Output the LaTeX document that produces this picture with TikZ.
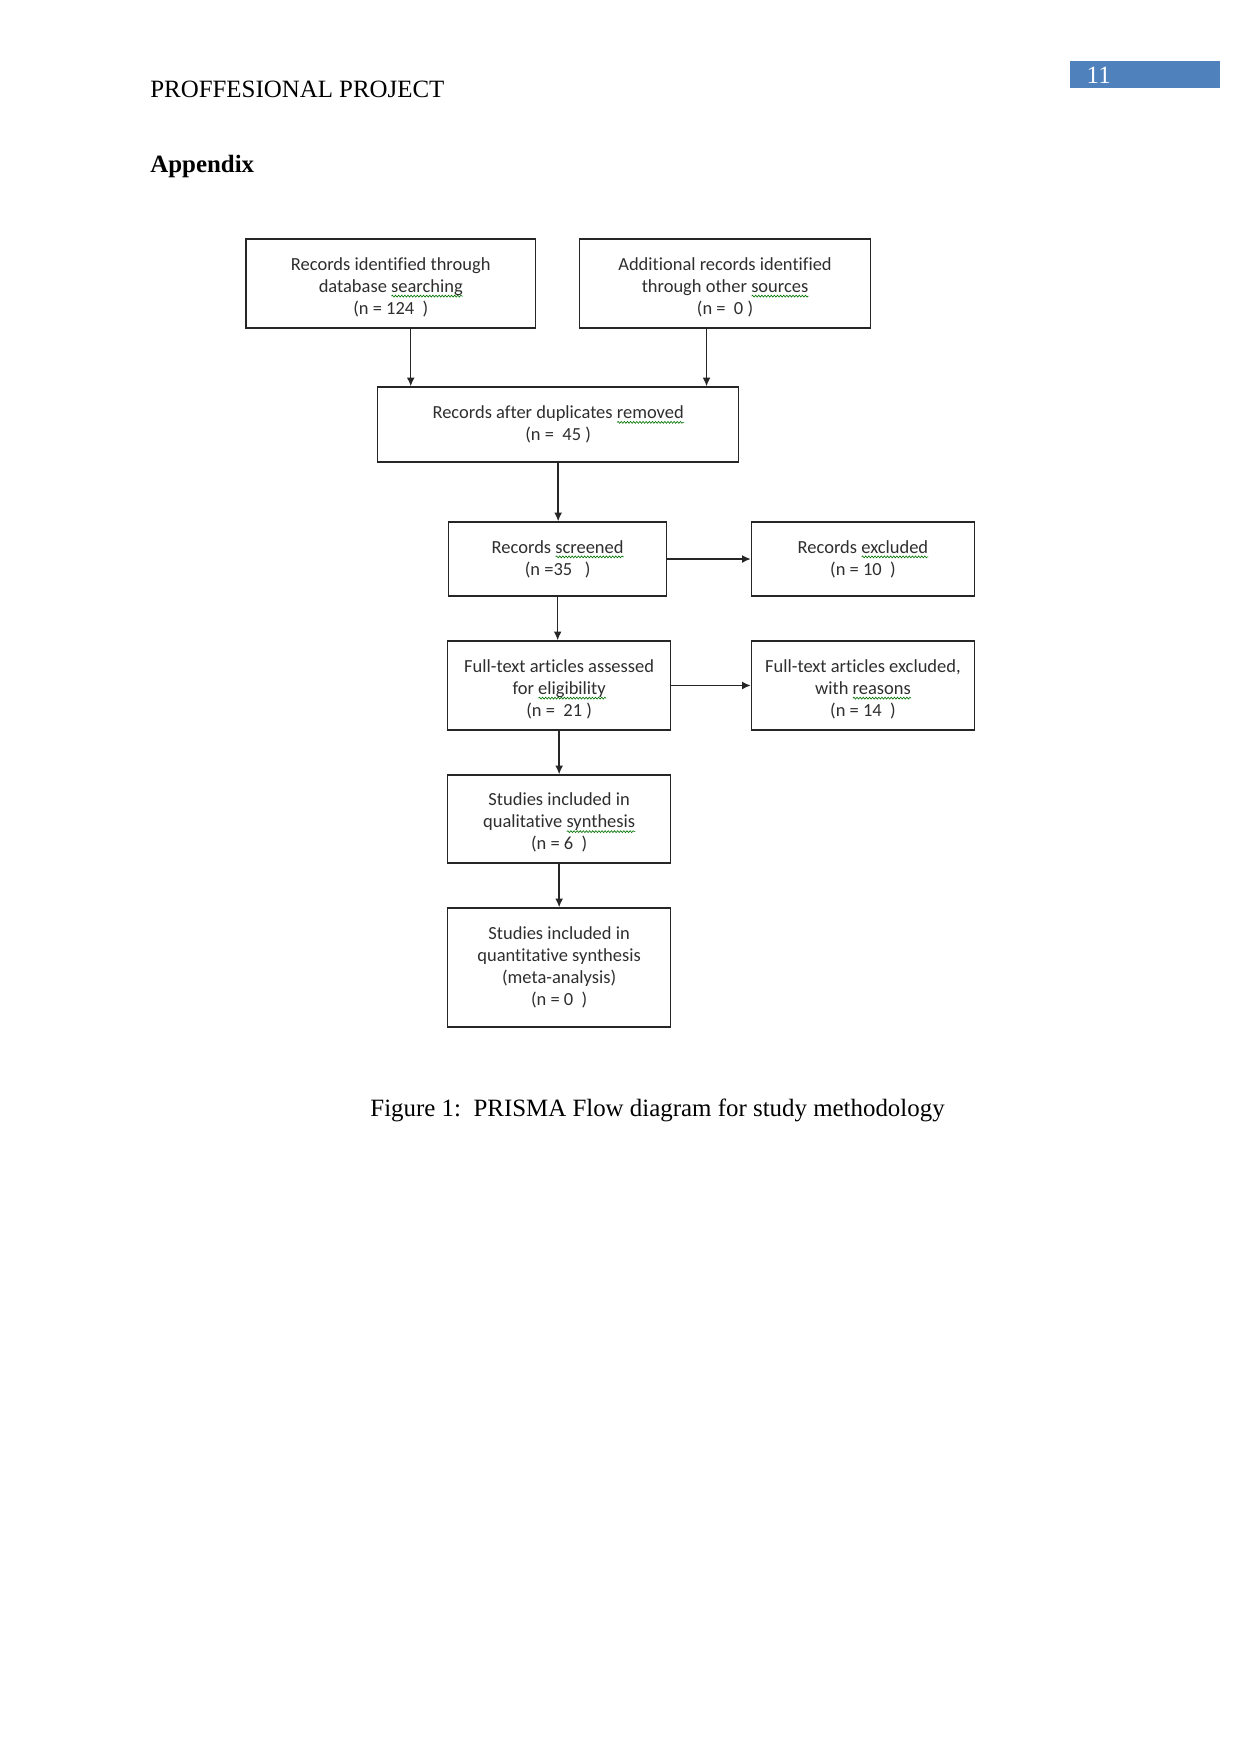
\documentclass[tikz,border=0pt]{standalone}
\usepackage{fontspec}
\setmainfont{Liberation Serif}
\newfontfamily\boxfont[Ligatures=NoCommon]{Carlito}
\usepackage{xcolor}
\usepackage{tikz}
\usetikzlibrary{arrows.meta,positioning,decorations.pathmorphing}
\colorlet{boxline}{black!85}
\colorlet{boxtext}{black!82}
\colorlet{spellgreen}{green!45!black}
\definecolor{pagetab}{RGB}{79,129,189}
\newdimen\px \px=0.16922mm
\newlength\spellwd
% wavy spell-check line under a word
\newcommand{\spell}[1]{\settowidth\spellwd{#1}%
  \rlap{\smash{\raisebox{-2.4pt}{\tikz\draw[spellgreen,line width=0.3pt,decorate,
    decoration={snake,amplitude=0.45pt,segment length=1.5pt}] (0,0)--(\spellwd,0);}}}#1}
% taller first line, pushes a three-line text down a little
\newcommand{\toprow}{\rule{0pt}{9.8pt}}

\begin{document}
\begin{tikzpicture}[x=0.16922mm,y=-0.16933mm,>=Latex,
  stage/.style={draw=boxline,line width=0.7pt,align=center,inner sep=0pt,
    text=boxtext,font=\boxfont\fontsize{8.9}{10.6}\selectfont},
  flow/.style={->,draw=boxline,line width=0.7pt,>={Latex[length=4.2pt,width=3.8pt]}},
  page/.style={font=\fontsize{12}{14}\selectfont,inner sep=0pt}]
\useasboundingbox (0,0) rectangle (1241,1754);
% running head and page number
\node[page,anchor=base west] (running) at (150,97) {PROFFESIONAL PROJECT};
\node[fill=pagetab,minimum width=150\px,minimum height=27\px,inner sep=0pt] (tab) at (1146,74.5) {};
\node[page,anchor=west,text=white] (pgno) at (1087,75) {11};
\node[page,anchor=base west,font=\bfseries\fontsize{12}{14}\selectfont] (appx) at (150,172) {Appendix};
% identification
\node[stage,minimum width=290\px,minimum height=89\px] (db) at (391,283.5)
  {\toprow Records identified through\\database \spell{searching}\\(n = 124\ \ )};
\node[stage,minimum width=291\px,minimum height=89\px] (other) at (725.5,283.5)
  {\toprow Additional records identified\\through other \spell{sources}\\(n =\ \ 0 )};
\node[stage,minimum width=361\px,minimum height=75\px] (dup) at (558.5,424.5)
  {Records after duplicates \spell{removed}\\(n =\ \ 45 )};
% screening
\node[stage,minimum width=218\px,minimum height=74\px] (scr) at (558,559)
  {Records \spell{screened}\\(n =35\ \ \ )};
\node[stage,minimum width=223\px,minimum height=74\px] (exc) at (863.5,559)
  {Records \spell{excluded}\\(n = 10\ \ )};
% eligibility
\node[stage,minimum width=223\px,minimum height=89\px] (ft) at (559.5,685.5)
  {\toprow Full-text articles assessed\\for \spell{eligibility}\\(n =\ \ 21 )};
\node[stage,minimum width=223\px,minimum height=89\px] (ftx) at (863.5,685.5)
  {\toprow Full-text articles excluded,\\with \spell{reasons}\\(n = 14\ \ )};
% included
\node[stage,minimum width=223\px,minimum height=88\px] (qual) at (559.5,819)
  {\toprow Studies included in\\qualitative \spell{synthesis}\\(n = 6\ \ )};
\node[stage,minimum width=223\px,minimum height=119\px] (quant) at (559.5,967.5)
  {Studies included in\\quantitative synthesis\\(meta-analysis)\\(n = 0\ \ )};
% connectors
\draw[flow] ([xshift=20\px]db.south) -- ([xshift=20\px]db.south |- dup.north);
\draw[flow] ([xshift=-18.5\px]other.south) -- ([xshift=-18.5\px]other.south |- dup.north);
\draw[flow] (dup.south) -- (dup.south |- scr.north);
\draw[flow] (scr.east) -- (exc.west);
\draw[flow] (scr.south) -- (scr.south |- ft.north);
\draw[flow] (ft.east) -- (ftx.west);
\draw[flow] (ft.south) -- (qual.north);
\draw[flow] (qual.south) -- (quant.north);
\node[page,anchor=base] (caption) at (658,1116) {Figure 1:\ \ PRISMA Flow diagram for study methodology};
\end{tikzpicture}
\end{document}
